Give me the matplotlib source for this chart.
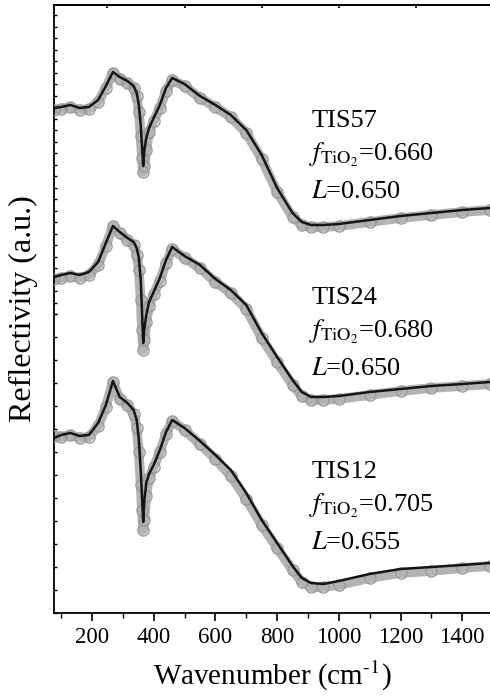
import numpy as np
import matplotlib
matplotlib.use('Agg')
import matplotlib.pyplot as plt
from matplotlib.ticker import MultipleLocator, FixedLocator, NullFormatter

plt.rcParams['font.family'] = ['Liberation Serif', 'DejaVu Serif']
plt.rcParams['mathtext.fontset'] = 'stix'

# wavenumber grid (cm^-1) the curves were read on
wavenumber = [77, 100, 130, 160, 190, 220, 245, 268, 290, 315, 335, 345, 352, 358, 362,
              366, 370, 376, 385, 400, 420, 440, 460, 500, 550, 600, 650, 700, 750, 800,
              850, 880, 910, 950, 1000, 1100, 1200, 1300, 1400, 1490]

# reflectivity (a.u., curves already stacked) - measured points
tis57_exp = [503, 504, 506, 503, 504, 511, 525, 540, 534, 530, 525, 517, 501, 477, 455,
             441, 447, 463, 481, 492, 505, 522, 533, 527, 515, 506, 496, 480, 454, 421,
             396, 388, 386, 386, 387, 391, 395, 398, 401, 403]
tis24_exp = [334, 335, 337, 335, 338, 348, 367, 387, 380, 373, 368, 358, 343, 313, 283,
             263, 273, 291, 307, 319, 332, 350, 364, 355, 345, 331, 320, 304, 275, 251,
             228, 217, 213, 213, 214, 218, 222, 225, 227, 229]
tis12_exp = [177, 176, 178, 175, 176, 187, 206, 231, 214, 208, 199, 185, 161, 128, 103,
             83, 93, 117, 135, 146, 161, 179, 192, 183, 169, 154, 137, 114, 88, 65,
             43, 31, 26, 26, 28, 35, 40, 42, 45, 47]

# fitted curves
tis57_fit = [505, 506, 508, 505, 506, 513, 527, 541, 536, 532, 527, 520, 508, 488, 468,
             447, 463, 475, 485, 495, 508, 525, 535, 529, 517, 508, 498, 483, 458, 425,
             400, 391, 388, 388, 389, 393, 397, 400, 403, 405]
tis24_fit = [336, 338, 340, 338, 341, 351, 370, 387, 381, 375, 371, 365, 355, 333, 303,
             270, 285, 298, 311, 321, 335, 353, 366, 357, 348, 334, 323, 308, 280, 256,
             233, 221, 216, 216, 217, 221, 224, 227, 229, 231]
tis12_fit = [175, 178, 180, 177, 178, 190, 208, 232, 216, 210, 203, 193, 173, 143, 118,
             91, 113, 130, 139, 148, 163, 181, 193, 185, 172, 158, 143, 120, 93, 70,
             47, 35, 30, 29, 32, 39, 44, 46, 48, 50]

samples = ['TIS57', 'TIS24', 'TIS12']
f_tio2 = ['0.660', '0.680', '0.705']
L_vals = ['0.650', '0.650', '0.655']
label_y = [486, 309, 135]

exp_curves = [tis57_exp, tis24_exp, tis12_exp]
fit_curves = [tis57_fit, tis24_fit, tis12_fit]

fig = plt.figure(figsize=(4.9, 6.96), dpi=100)
ax = fig.add_axes([54/490, 83/696, 436/490, 608/696])

for ex, fi in zip(exp_curves, fit_curves):
    ax.plot(wavenumber, ex, color='#b3b3b3', lw=7, solid_capstyle='round', zorder=2)
    ax.plot(wavenumber, ex, ls='none', marker='o', ms=8, mfc='none', mec='#9a9a9a',
            mew=1.0, zorder=3)
    ax.plot(wavenumber, fi, color='#151515', lw=1.8, zorder=4)

for name, f, L, y in zip(samples, f_tio2, L_vals, label_y):
    ax.text(912, y, name, fontsize=19, va='baseline', ha='left')
    ax.text(903, y - 34, r'$f_{\mathrm{TiO}_2}$=' + f, fontsize=19, va='baseline', ha='left')
    ax.text(910, y - 71, r'$L$=' + L, fontsize=19, va='baseline', ha='left')

ax.set_xlim(77, 1490)
ax.set_ylim(0, 608)

ax.spines['right'].set_visible(False)
for s in ['left', 'bottom', 'top']:
    ax.spines[s].set_linewidth(1.3)

ax.xaxis.set_major_locator(MultipleLocator(200))
ax.xaxis.set_minor_locator(MultipleLocator(100))
ax.tick_params(axis='x', which='major', direction='out', length=6, width=1.2,
               labelsize=16.5, pad=4, top=False)
ax.tick_params(axis='x', which='minor', direction='out', length=3.5, width=1.0, top=False)

# top axis ticks
sec = ax.secondary_xaxis('top')
sec.xaxis.set_major_locator(MultipleLocator(250))
sec.xaxis.set_minor_locator(FixedLocator([]))
sec.tick_params(direction='in', length=2.5, width=1.2, labeltop=False)
sec.spines['top'].set_linewidth(1.3)

yt = list(np.arange(0, 300, 23)) + list(np.arange(299, 608, 11.5))
ax.yaxis.set_major_locator(FixedLocator(yt))
ax.yaxis.set_major_formatter(NullFormatter())
ax.tick_params(axis='y', direction='in', length=2.5, width=1.0)

ax.set_xlabel(r'Wavenumber (cm$^{\text{-1}}$)', fontsize=21, labelpad=8)
ax.set_ylabel('Reflectivity (a.u.)', fontsize=23, labelpad=8)

fig.savefig('out.png', dpi=100)
